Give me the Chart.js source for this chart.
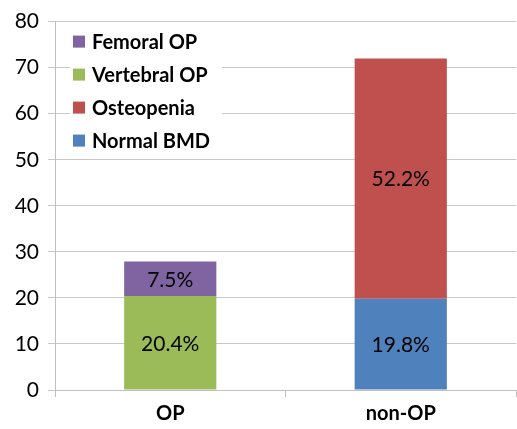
<!DOCTYPE html>
<html>
<head>
<meta charset="utf-8">
<script src="https://cdn.jsdelivr.net/npm/chart.js@4"></script>
<style>
  html, body { margin: 0; padding: 0; background: #fff; }
  #wrap { width: 517px; height: 429px; position: relative; }
</style>
</head>
<body>
<div id="wrap"><canvas id="chart"></canvas></div>
<script>
const categories = ['OP', 'non-OP'];
const normalBmd = [null, 19.8];
const osteopenia = [null, 52.2];
const vertebralOp = [20.4, null];
const femoralOp = [7.5, null];
const yTicks = [0, 10, 20, 30, 40, 50, 60, 70, 80];

const FONT = 'Lato, "Open Sans", sans-serif';

// value labels in the middle of each bar segment
const segmentLabels = {
  id: 'segmentLabels',
  afterDatasetsDraw(chart) {
    const ctx = chart.ctx;
    ctx.save();
    ctx.font = '21px ' + FONT;
    ctx.fillStyle = '#000';
    ctx.textAlign = 'center';
    ctx.textBaseline = 'middle';
    chart.data.datasets.forEach((ds, i) => {
      chart.getDatasetMeta(i).data.forEach((bar, j) => {
        const v = ds.data[j];
        if (v == null) return;
        const p = bar.getProps(['x', 'y', 'base'], true);
        ctx.fillText(v.toFixed(1) + '%', p.x, (p.y + p.base) / 2 + 1);
      });
    });
    ctx.restore();
  }
};

// legend drawn inside the plot, top left, on a white box
const innerLegend = {
  id: 'innerLegend',
  afterDraw(chart) {
    const ctx = chart.ctx;
    const area = chart.chartArea;
    const x0 = area.left + 15;
    const y0 = area.top + 5;
    ctx.save();
    ctx.fillStyle = '#fff';
    ctx.fillRect(x0, y0, 152, 127);
    ctx.font = 'bold 20px ' + FONT;
    ctx.textBaseline = 'middle';
    const items = chart.data.datasets.slice().reverse();
    items.forEach((ds, k) => {
      const cy = y0 + 15 + k * 33;
      ctx.fillStyle = ds.backgroundColor;
      ctx.fillRect(x0 + 3, cy - 6, 12, 12);
      ctx.fillStyle = '#000';
      ctx.fillText(ds.label, x0 + 22, cy + 1);
    });
    ctx.restore();
  }
};

new Chart(document.getElementById('chart'), {
  type: 'bar',
  data: {
    labels: categories,
    datasets: [
      { label: 'Normal BMD', data: normalBmd, backgroundColor: '#4F81BD' },
      { label: 'Osteopenia', data: osteopenia, backgroundColor: '#C0504D' },
      { label: 'Vertebral OP', data: vertebralOp, backgroundColor: '#9BBB59' },
      { label: 'Femoral OP', data: femoralOp, backgroundColor: '#8064A2' }
    ]
  },
  options: {
    responsive: true,
    maintainAspectRatio: false,
    animation: false,
    layout: { padding: { top: 20, right: 1, left: 0, bottom: 0 } },
    datasets: {
      bar: { categoryPercentage: 1, barPercentage: 0.4 }
    },
    plugins: {
      legend: { display: false },
      tooltip: { enabled: false }
    },
    scales: {
      x: {
        stacked: true,
        border: { color: '#BFBFBF' },
        grid: { offset: true, drawOnChartArea: false, tickLength: 7, color: '#BFBFBF' },
        ticks: { color: '#000', font: { family: FONT, size: 20, weight: 'bold' }, padding: 5 },
        afterFit(scale) { scale.height = 39; }
      },
      y: {
        stacked: true,
        min: 0,
        max: 80,
        border: { color: '#BFBFBF' },
        grid: { color: '#C8C8C8', tickLength: 7 },
        ticks: {
          stepSize: 10,
          color: '#000',
          padding: 9,
          font: { family: FONT, size: 21 },
          callback: (v) => yTicks.includes(v) ? v : ''
        },
        afterFit(scale) { scale.width = 55; }
      }
    }
  },
  plugins: [segmentLabels, innerLegend]
});
</script>
</body>
</html>
